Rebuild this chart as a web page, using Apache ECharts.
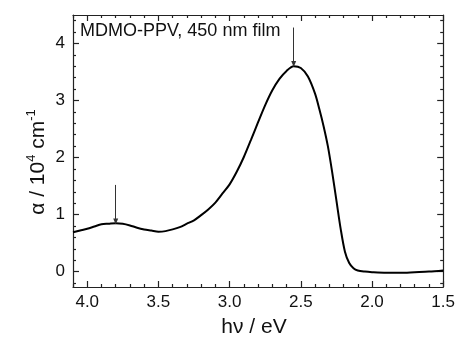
<!DOCTYPE html>
<html>
<head>
<meta charset="utf-8">
<script src="https://cdn.jsdelivr.net/npm/echarts@6/dist/echarts.min.js"></script>
<style>html,body{margin:0;padding:0;background:#fff}#c{width:458px;height:345px}</style>
</head>
<body>
<div id="c"></div>
<script>
// Photon energy (eV) and absorption coefficient (10^4 cm^-1)
const energy = [4.10,4.05,4.00,3.95,3.90,3.85,3.80,3.75,3.70,3.65,3.60,3.55,3.50,3.45,3.40,3.35,3.30,3.25,3.20,3.15,3.10,3.05,3.00,2.95,2.90,2.85,2.80,2.75,2.70,2.65,2.60,2.55,2.50,2.45,2.40,2.37,2.34,2.31,2.28,2.25,2.22,2.19,2.16,2.13,2.10,2.05,2.00,1.90,1.80,1.70,1.60,1.50];
const alpha  = [0.69,0.72,0.75,0.79,0.83,0.84,0.85,0.84,0.81,0.77,0.74,0.72,0.70,0.71,0.74,0.78,0.84,0.90,0.99,1.09,1.21,1.37,1.53,1.75,2.01,2.31,2.62,2.92,3.18,3.38,3.52,3.60,3.57,3.42,3.12,2.85,2.55,2.20,1.75,1.25,0.75,0.35,0.15,0.06,0.02,0.00,-0.01,-0.02,-0.02,-0.01,0.00,0.02];
const xMajorTicks = [1.5,2.0,2.5,3.0,3.5,4.0];
const xMinorTicks = [1.6,1.7,1.8,1.9,2.1,2.2,2.3,2.4,2.6,2.7,2.8,2.9,3.1,3.2,3.3,3.4,3.6,3.7,3.8,3.9,4.1];
const yMajorTicks = [0,1,2,3,4];
const yMinorTicks = [-0.2,0.2,0.4,0.6,0.8,1.2,1.4,1.6,1.8,2.2,2.4,2.6,2.8,3.2,3.4,3.6,3.8,4.2,4.4];
// arrows: [x, yStart, yEnd]
const arrows = [[3.80,1.52,0.88],[2.55,4.28,3.64]];
const annotation = 'MDMO-PPV, 450 nm film';
const xTitle = 'hν / eV';

const FONT = 'Liberation Sans, Arial, sans-serif';
const AX = '#222';
const xRange = {min:1.5, max:4.1};
const yRange = {min:-0.27, max:4.5};

function xAx(pos, ticks, len, showLine, showLabel, extra){
  return Object.assign({type:'value', gridIndex:0, position:pos, inverse:true, min:xRange.min, max:xRange.max,
    axisLine:{show:showLine, onZero:false, lineStyle:{color:AX, width:1.2}},
    axisTick:{show:true, inside:true, length:len, customValues:ticks, lineStyle:{color:AX, width:1.2}},
    axisLabel:{show:showLabel, customValues:ticks, margin:7, color:'#111', fontFamily:FONT, fontSize:17, formatter:v=>v.toFixed(1)},
    splitLine:{show:false}}, extra||{});
}
function yAx(pos, ticks, len, showLine, showLabel, extra){
  return Object.assign({type:'value', gridIndex:0, position:pos, min:yRange.min, max:yRange.max,
    axisLine:{show:showLine, onZero:false, lineStyle:{color:AX, width:1.2}},
    axisTick:{show:true, inside:true, length:len, customValues:ticks, lineStyle:{color:AX, width:1.2}},
    axisLabel:{show:showLabel, customValues:ticks, margin:8, color:'#111', fontFamily:FONT, fontSize:17, formatter:v=>String(Math.round(v))},
    splitLine:{show:false}}, extra||{});
}

const chart = echarts.init(document.getElementById('c'));
chart.setOption({
  animation:false,
  backgroundColor:'#fff',
  grid:{left:73, right:12, top:15, bottom:58, containLabel:false},
  xAxis:[
    xAx('bottom', xMajorTicks, 6, true, true),
    xAx('bottom', xMinorTicks, 3, false, false),
    xAx('top', xMajorTicks, 6, true, false),
    xAx('top', xMinorTicks, 3, false, false)
  ],
  yAxis:[
    yAx('left', yMajorTicks, 6, true, true),
    yAx('left', yMinorTicks, 3, false, false),
    yAx('right', yMajorTicks, 6, true, false),
    yAx('right', yMinorTicks, 3, false, false)
  ],
  series:[{
    type:'line', xAxisIndex:0, yAxisIndex:0,
    data: energy.map((e,i)=>[e, alpha[i]]),
    showSymbol:false, smooth:0.3,
    lineStyle:{color:'#000', width:2},
    markLine:{
      silent:true, symbol:['none','triangle'], symbolSize:[5,6],
      label:{show:false},
      lineStyle:{color:'#333', width:1, type:'solid'},
      data: arrows.map(a=>[{coord:[a[0],a[1]]},{coord:[a[0],a[2]]}])
    }
  }],
  graphic:[
    {type:'text', left:80, top:22,
     style:{text:annotation, fontFamily:FONT, fontSize:18, fill:'#111'}},
    {type:'text', x:254, y:327,
     style:{text:xTitle, fontFamily:FONT, fontSize:21, fill:'#111', align:'center', verticalAlign:'middle'}},
    {type:'text', x:37, y:162, rotation:Math.PI/2,
     style:{text:'{a|α / 10}{s|4}{a| cm}{s|-1}', align:'center', verticalAlign:'middle', fill:'#111',
       rich:{
         a:{fontFamily:FONT, fontSize:21, fill:'#111', lineHeight:24, verticalAlign:'bottom'},
         s:{fontFamily:FONT, fontSize:13, fill:'#111', lineHeight:24, verticalAlign:'top', padding:[0,0,8,0]}
       }}}
  ]
});
</script>
</body>
</html>
